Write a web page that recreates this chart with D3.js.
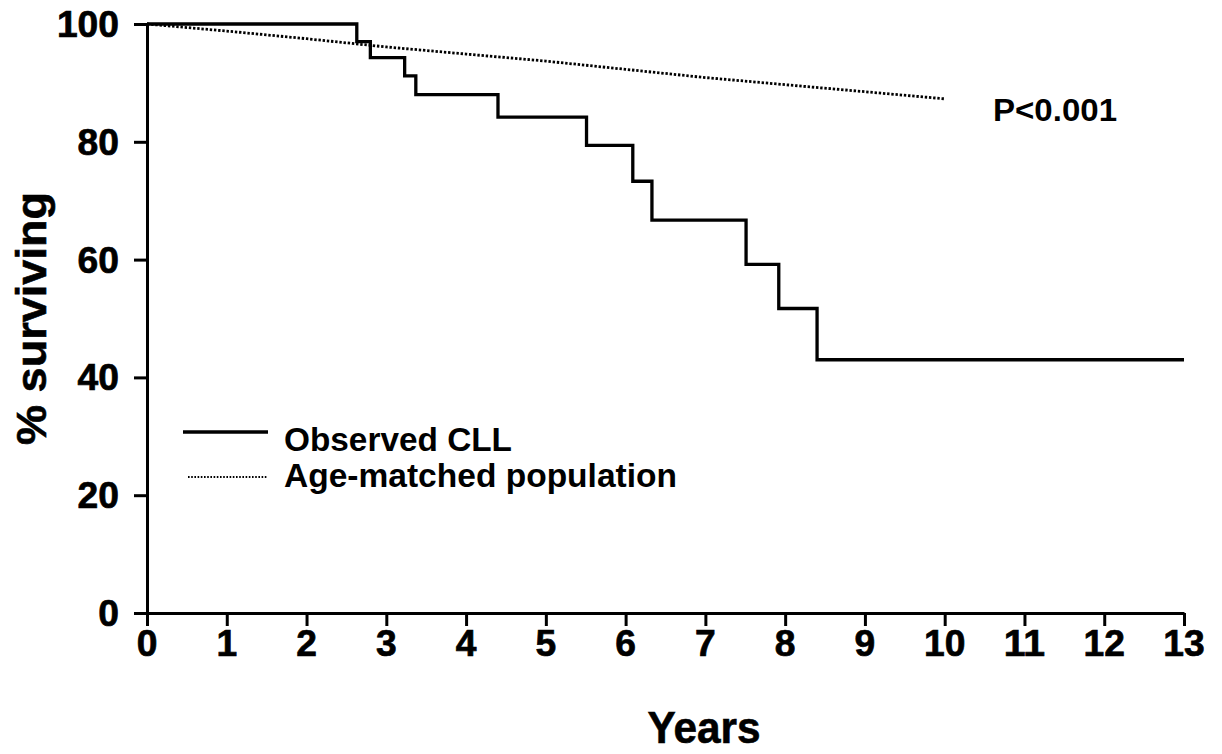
<!DOCTYPE html>
<html>
<head>
<meta charset="utf-8">
<script src="https://cdn.jsdelivr.net/npm/d3@7/dist/d3.min.js"></script>
<style>
  html, body { margin: 0; padding: 0; background: #fff; }
  svg { display: block; }
  text { font-family: "Liberation Sans", Arial, Helvetica, sans-serif; font-weight: bold; fill: #000; }
</style>
</head>
<body>
<svg id="chart" width="1222" height="754"></svg>
<script>
// Observed CLL (Kaplan-Meier steps)
const cllYears    = [0, 2.63, 2.80, 3.23, 3.37, 4.40, 5.51, 6.09, 6.33, 7.51, 7.92, 8.40, 13];
const cllSurvival = [100, 97.0, 94.3, 91.2, 88.0, 84.2, 79.4, 73.3, 66.7, 59.2, 51.7, 43.0, 43.0];
// Age-matched population
const popYears    = [0, 1, 2, 3, 4, 5, 6, 7, 8, 9, 10];
const popSurvival = [100, 98.8, 97.5, 96.1, 94.9, 93.7, 92.3, 90.9, 89.7, 88.5, 87.3];
// Ticks
const xTicks = [0,1,2,3,4,5,6,7,8,9,10,11,12,13];
const yTicks = [0,20,40,60,80,100];
const seriesNames = ["Observed CLL", "Age-matched population"];
const pText = "P<0.001";

const svg = d3.select("#chart");
const x = d3.scaleLinear().domain([0, 13]).range([147, 1184]);
const y = d3.scaleLinear().domain([0, 100]).range([613, 24]);

// Y axis
const yAxis = svg.append("g").attr("transform", `translate(${x(0)},0)`)
  .call(d3.axisLeft(y).tickValues(yTicks).tickSize(13).tickSizeOuter(0).tickFormat(""));
yAxis.selectAll("path, line").attr("stroke", "#000").attr("stroke-width", 3);

svg.append("g").selectAll("text").data(yTicks).join("text")
  .attr("x", 119)
  .attr("y", d => y(d) + 13)
  .attr("text-anchor", "end")
  .attr("font-size", 37)
  .attr("stroke", "#000").attr("stroke-width", 0.7)
  .attr("textLength", d => String(d).length * 20.7)
  .attr("lengthAdjust", "spacingAndGlyphs")
  .text(d => d);

// X axis
const xAxis = svg.append("g").attr("transform", `translate(0,${y(0)})`)
  .call(d3.axisBottom(x).tickValues(xTicks).tickSize(13).tickSizeOuter(0).tickFormat(""));
xAxis.selectAll("path, line").attr("stroke", "#000").attr("stroke-width", 3);

svg.append("g").selectAll("text").data(xTicks).join("text")
  .attr("x", d => x(d))
  .attr("y", 656)
  .attr("text-anchor", "middle")
  .attr("font-size", 37)
  .attr("stroke", "#000").attr("stroke-width", 0.7)
  .attr("textLength", d => String(d).length * 20.7)
  .attr("lengthAdjust", "spacingAndGlyphs")
  .text(d => d);

// Axis titles
svg.append("text")
  .attr("x", 704)
  .attr("y", 743)
  .attr("text-anchor", "middle")
  .attr("font-size", 45)
  .attr("stroke", "#000").attr("stroke-width", 0.6)
  .attr("textLength", 113)
  .attr("lengthAdjust", "spacingAndGlyphs")
  .text("Years");

svg.append("text")
  .attr("transform", `translate(46,${(y(0) + y(100)) / 2}) rotate(-90)`)
  .attr("text-anchor", "middle")
  .attr("font-size", 43)
  .attr("stroke", "#000").attr("stroke-width", 0.6)
  .attr("textLength", 253)
  .attr("lengthAdjust", "spacingAndGlyphs")
  .text("% surviving");

// Population line (dotted)
const popLine = d3.line().x((d, i) => x(popYears[i])).y(d => y(d));
svg.append("path")
  .attr("d", popLine(popSurvival))
  .attr("fill", "none")
  .attr("stroke", "#000")
  .attr("stroke-width", 2.8)
  .attr("stroke-dasharray", "2.4,1.8");

// CLL step line
const cllLine = d3.line().curve(d3.curveStepAfter).x((d, i) => x(cllYears[i])).y(d => y(d));
svg.append("path")
  .attr("d", cllLine(cllSurvival))
  .attr("fill", "none")
  .attr("stroke", "#000")
  .attr("stroke-width", 3.3);

// P value
svg.append("text")
  .attr("x", 993)
  .attr("y", 121)
  .attr("font-size", 32)
  .attr("textLength", 124)
  .attr("lengthAdjust", "spacingAndGlyphs")
  .text(pText);

// Legend
const leg = svg.append("g");
leg.append("line").attr("x1", 183).attr("x2", 268).attr("y1", 432).attr("y2", 432)
  .attr("stroke", "#000").attr("stroke-width", 3.3);
leg.append("line").attr("x1", 188).attr("x2", 268).attr("y1", 477).attr("y2", 477)
  .attr("stroke", "#000").attr("stroke-width", 2.2).attr("stroke-dasharray", "1.6,1.6");
leg.append("text").attr("x", 284).attr("y", 451).attr("font-size", 33)
  .attr("textLength", 228).attr("lengthAdjust", "spacingAndGlyphs").text(seriesNames[0]);
leg.append("text").attr("x", 284).attr("y", 487).attr("font-size", 33)
  .attr("textLength", 393).attr("lengthAdjust", "spacingAndGlyphs").text(seriesNames[1]);
</script>
</body>
</html>
